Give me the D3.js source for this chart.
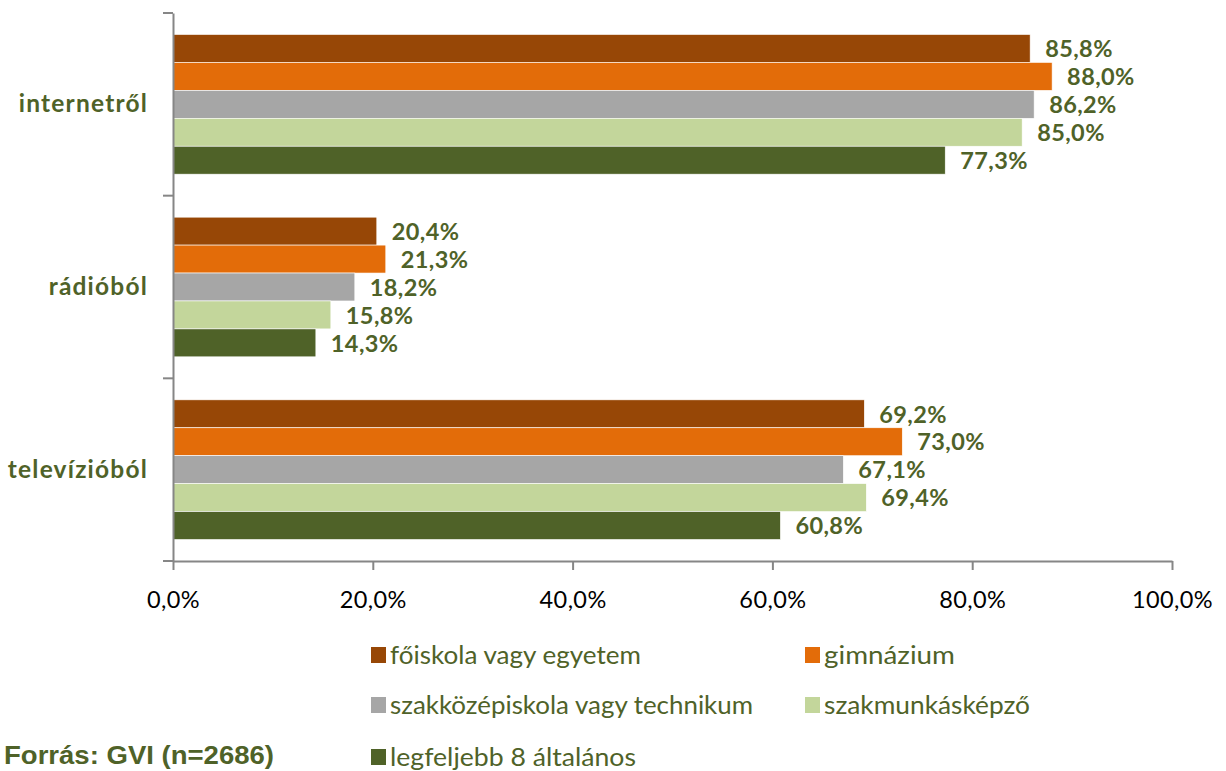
<!DOCTYPE html>
<html><head><meta charset="utf-8">
<script src="https://cdn.jsdelivr.net/npm/d3@7"></script>
<style>body{margin:0;background:#fff}svg{display:block}</style>
</head><body>
<script>
const categories = ["internetről", "rádióból", "televízióból"];
const seriesNames = ["főiskola vagy egyetem", "gimnázium", "szakközépiskola vagy technikum", "szakmunkásképző", "legfeljebb 8 általános"];
const seriesColors = ["#974706", "#E36C09", "#A6A6A6", "#C3D69B", "#4F6228"];
const values = [
  [85.8, 88.0, 86.2, 85.0, 77.3],
  [20.4, 21.3, 18.2, 15.8, 14.3],
  [69.2, 73.0, 67.1, 69.4, 60.8]
];
const tickValues = [0, 20, 40, 60, 80, 100];
const sourceText = "Forrás: GVI (n=2686)";

const W = 1226, H = 771;
const svg = d3.select("body").append("svg").attr("width", W).attr("height", H);
const fmt = v => v.toFixed(1).replace(".", ",") + "%";
const green = "#4F6228";
const font = "Lato, 'Open Sans', sans-serif";

const x = d3.scaleLinear().domain([0, 100]).range([173, 1172]);
const y = d3.scaleBand().domain(categories).range([13, 561]);
const inner = d3.scaleBand().domain(d3.range(seriesNames.length)).range([0, y.bandwidth()]).paddingOuter(0.77).paddingInner(0);

// bars
const g = svg.append("g");
categories.forEach((c, ci) => {
  values[ci].forEach((v, si) => {
    g.append("rect")
      .attr("x", x(0)).attr("y", y(c) + inner(si))
      .attr("width", x(v) - x(0)).attr("height", inner.bandwidth())
      .attr("fill", seriesColors[si]).attr("stroke", "#fff").attr("stroke-width", 0.6);
    g.append("text")
      .attr("x", x(v) + 15).attr("y", y(c) + inner(si) + inner.bandwidth() / 2)
      .attr("dy", "0.37em")
      .attr("font-family", font).attr("font-weight", "bold")
      .attr("font-size", 23.5).attr("letter-spacing", 0.4).attr("fill", green)
      .text(fmt(v));
  });
});

// x axis
const xa = svg.append("g").attr("transform", "translate(0,561)")
  .call(d3.axisBottom(x).tickValues(tickValues).tickSize(9).tickSizeOuter(0).tickFormat(d => fmt(d)));
xa.select(".domain").attr("stroke", "#868686").attr("stroke-width", 2);
xa.selectAll(".tick line").attr("stroke", "#868686").attr("stroke-width", 2);
xa.selectAll(".tick text").attr("font-family", font).attr("font-size", 23.5).attr("letter-spacing", 0.4)
  .attr("fill", "#000").attr("y", 30);

// y axis
const ya = svg.append("g").attr("transform", "translate(173,0)")
  .call(d3.axisLeft(y).tickSize(0).tickSizeOuter(0).tickPadding(25));
ya.select(".domain").attr("stroke", "#868686").attr("stroke-width", 2);
ya.selectAll(".tick text").attr("font-family", font).attr("font-weight", "bold")
  .attr("font-size", 24.5).attr("letter-spacing", 1.2).attr("fill", green);
const bounds = categories.map(c => y(c)).concat([y.range()[1]]);
svg.append("g").selectAll("line").data(bounds).join("line")
  .attr("x1", 163).attr("x2", 173).attr("y1", d => d).attr("y2", d => d)
  .attr("stroke", "#868686").attr("stroke-width", 2);

// legend
const legPos = [[371, 655], [805, 655], [371, 705], [805, 705], [371, 757]];
const legW = [270, 150, 382, 225, 265];
const lg = svg.append("g");
seriesNames.forEach((n, i) => {
  const [lx, ly] = legPos[i];
  lg.append("rect").attr("x", lx).attr("y", ly - 8).attr("width", 15).attr("height", 16).attr("fill", seriesColors[i]);
  lg.append("text").attr("x", lx + 19).attr("y", ly).attr("dy", "0.36em")
    .attr("font-family", font).attr("font-size", 25).attr("fill", green)
    .attr("textLength", legW[i] - 19).attr("lengthAdjust", "spacingAndGlyphs")
    .text(n);
});

svg.append("text").attr("x", 4).attr("y", 755).attr("dy", "0.36em")
  .attr("font-family", "'Liberation Sans Narrow', 'Liberation Sans', Arial, sans-serif").attr("font-weight", "bold")
  .attr("font-size", 26).attr("fill", green).attr("textLength", 270).attr("lengthAdjust", "spacingAndGlyphs")
  .text(sourceText);
</script>
</body></html>
